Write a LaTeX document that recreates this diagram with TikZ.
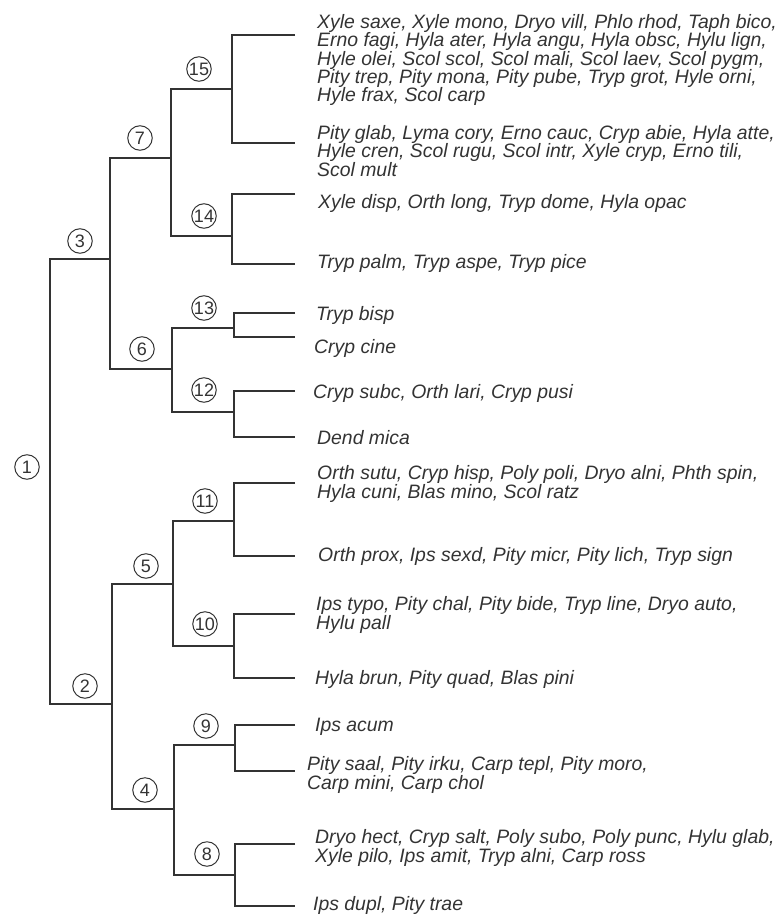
\documentclass[tikz,border=0pt]{standalone}
\usepackage{fontspec}
\setmainfont{Liberation Sans}
\begin{document}
\begin{tikzpicture}[x=1pt,y=-1pt,
  tree/.style={draw=black!80, line width=1.2pt},
  num/.style={draw=black!80, line width=1pt, circle, minimum size=24.5pt, inner sep=0pt,
              text=black!80, font=\fontsize{18}{18}\selectfont},
  taxa/.style={anchor=west, inner sep=0pt, align=left, text=black!80,
               font=\fontsize{19.4}{18.3}\selectfont\itshape}]
\useasboundingbox (0,0) rectangle (783,915);
% junctions
\coordinate (j1) at (50,480);
\coordinate (j3) at (110,259);
\coordinate (j7) at (171,158);
\coordinate (j15) at (232,89);
\coordinate (j14) at (232,236);
\coordinate (j6) at (172,369);
\coordinate (j13) at (234,328);
\coordinate (j12) at (234,412);
\coordinate (j2) at (112,704);
\coordinate (j5) at (173,584);
\coordinate (j11) at (234,521);
\coordinate (j10) at (234,646);
\coordinate (j4) at (174,809);
\coordinate (j9) at (235,745);
\coordinate (j8) at (235,875);
% leaf ends
\coordinate (l1) at (295,35);
\coordinate (l2) at (295,143);
\coordinate (l3) at (295,194);
\coordinate (l4) at (295,264);
\coordinate (l5) at (295,313);
\coordinate (l6) at (295,337);
\coordinate (l7) at (295,391);
\coordinate (l8) at (295,437);
\coordinate (l9) at (295,483);
\coordinate (l10) at (295,556);
\coordinate (l11) at (295,614);
\coordinate (l12) at (295,678);
\coordinate (l13) at (295,725);
\coordinate (l14) at (295,771);
\coordinate (l15) at (295,844);
\coordinate (l16) at (295,906);
% tree
\draw[tree] (j3) -| (j1) |- (j2);
\draw[tree] (j7) -| (j3) |- (j6);
\draw[tree] (j15) -| (j7) |- (j14);
\draw[tree] (l1) -| (j15) |- (l2);
\draw[tree] (l3) -| (j14) |- (l4);
\draw[tree] (j13) -| (j6) |- (j12);
\draw[tree] (l5) -| (j13) |- (l6);
\draw[tree] (l7) -| (j12) |- (l8);
\draw[tree] (j5) -| (j2) |- (j4);
\draw[tree] (j11) -| (j5) |- (j10);
\draw[tree] (l9) -| (j11) |- (l10);
\draw[tree] (l11) -| (j10) |- (l12);
\draw[tree] (j9) -| (j4) |- (j8);
\draw[tree] (l13) -| (j9) |- (l14);
\draw[tree] (l15) -| (j8) |- (l16);
% numbers
\node[num] (c1) at (27,467) {1};
\node[num] (c2) at (85,686) {2};
\node[num] (c3) at (80,241) {3};
\node[num] (c4) at (145,790) {4};
\node[num] (c5) at (146,566) {5};
\node[num] (c6) at (142,349) {6};
\node[num] (c7) at (140,138) {7};
\node[num] (c8) at (207,854) {8};
\node[num] (c9) at (206,726) {9};
\node[num] (c10) at (205,624) {10};
\node[num] (c11) at (205,501) {11};
\node[num] (c12) at (204,390) {12};
\node[num] (c13) at (204,308) {13};
\node[num] (c14) at (204,216) {14};
\node[num] (c15) at (199,69) {15};
% taxa
\node[taxa] (t1) at (317,60) {Xyle saxe, Xyle mono, Dryo vill, Phlo rhod, Taph bico,\\Erno fagi, Hyla ater, Hyla angu, Hyla obsc, Hylu lign,\\Hyle olei, Scol scol, Scol mali, Scol laev, Scol pygm,\\Pity trep, Pity mona, Pity pube, Tryp grot, Hyle orni,\\Hyle frax, Scol carp};
\node[taxa] (t2) at (317,151) {Pity glab, Lyma cory, Erno cauc, Cryp abie, Hyla atte,\\Hyle cren, Scol rugu, Scol intr, Xyle cryp, Erno tili,\\Scol mult};
\node[taxa] (t3) at (318,203) {Xyle disp, Orth long, Tryp dome, Hyla opac};
\node[taxa] (t4) at (317,263) {Tryp palm, Tryp aspe, Tryp pice};
\node[taxa] (t5) at (316,315) {Tryp bisp};
\node[taxa] (t6) at (314,348) {Cryp cine};
\node[taxa] (t7) at (313,393) {Cryp subc, Orth lari, Cryp pusi};
\node[taxa] (t8) at (317,438) {Dend mica};
\node[taxa] (t9) at (317,484) {Orth sutu, Cryp hisp, Poly poli, Dryo alni, Phth spin,\\Hyla cuni, Blas mino, Scol ratz};
\node[taxa] (t10) at (318,556) {Orth prox, Ips sexd, Pity micr, Pity lich, Tryp sign};
\node[taxa] (t11) at (316,615) {Ips typo, Pity chal, Pity bide, Tryp line, Dryo auto,\\Hylu pall};
\node[taxa] (t12) at (315,679) {Hyla brun, Pity quad, Blas pini};
\node[taxa] (t13) at (315,727) {Ips acum};
\node[taxa] (t14) at (307,775) {Pity saal, Pity irku, Carp tepl, Pity moro,\\Carp mini, Carp chol};
\node[taxa] (t15) at (315,848) {Dryo hect, Cryp salt, Poly subo, Poly punc, Hylu glab,\\Xyle pilo, Ips amit, Tryp alni, Carp ross};
\node[taxa] (t16) at (313,905) {Ips dupl, Pity trae};
\end{tikzpicture}
\end{document}
